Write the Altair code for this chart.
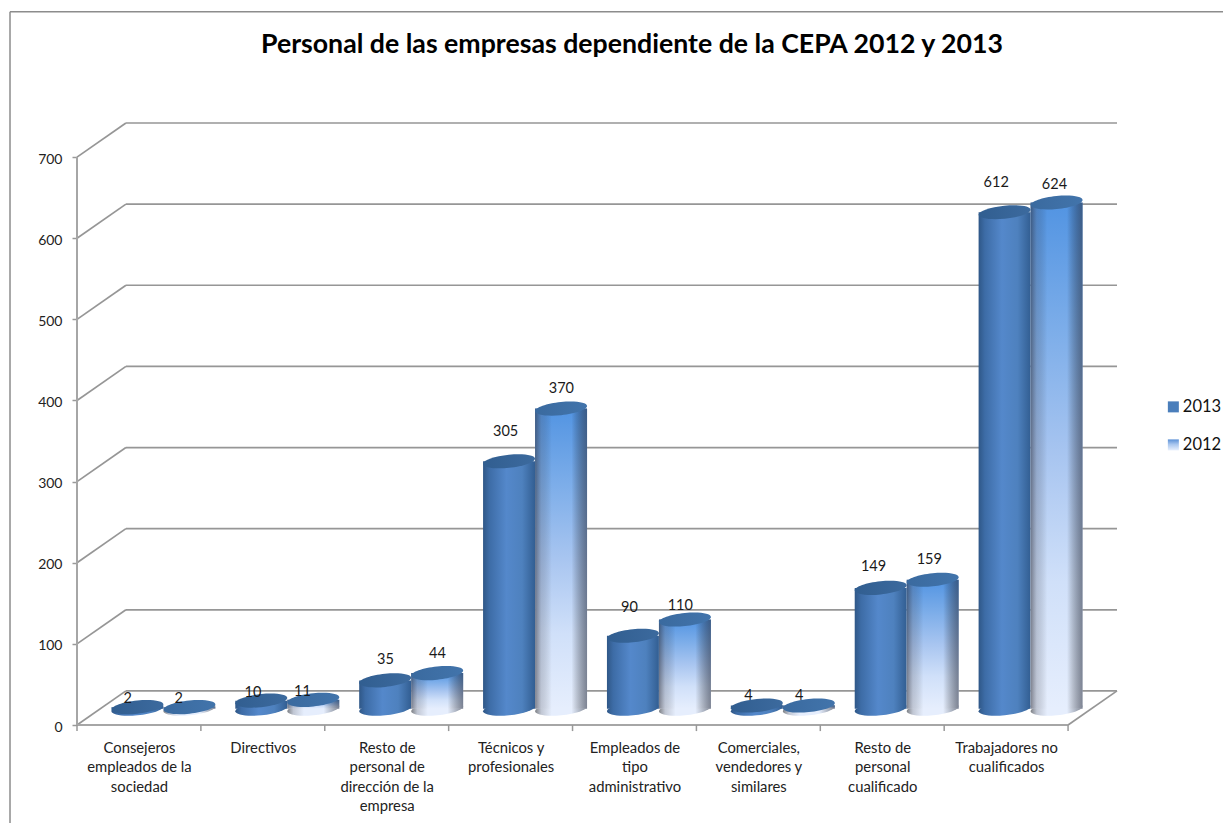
import altair as alt
import pandas as pd

categories = [
    ["Consejeros", "empleados de la", "sociedad"],
    ["Directivos"],
    ["Resto de", "personal de", "dirección de la", "empresa"],
    ["Técnicos y", "profesionales"],
    ["Empleados de", "tipo", "administrativo"],
    ["Comerciales,", "vendedores y", "similares"],
    ["Resto de", "personal", "cualificado"],
    ["Trabajadores no", "cualificados"],
]
values_2013 = [2, 10, 35, 305, 90, 4, 149, 612]
values_2012 = [2, 11, 44, 370, 110, 4, 159, 624]
label_x_2013 = [0.41, 1.42, 2.49, 3.46, 4.46, 5.42, 6.43, 7.42]
label_x_2012 = [0.82, 1.82, 2.91, 3.91, 4.87, 5.83, 6.88, 7.89]
label_y_2013 = [34.5, 42, 83, 364, 147, 38, 197, 670]
label_y_2012 = [34.5, 43, 90, 416, 149, 38, 206, 668]
y_ticks = [0, 100, 200, 300, 400, 500, 600, 700]

FONT = "Lato"
GRID = "#969696"
PX_X = 123.9
PX_Y = 0.811
DEPTH_X = 0.395
DEPTH_Y = 42
LIFT = 20
BAR_W = 52 / PX_X
ELLIPSE = "M-1,0.1 A1,0.25,-6,1,1,1,-0.1 A1,0.25,-6,1,1,-1,0.1 Z"


def hgrad(stops):
    return {"gradient": "linear", "x1": 0, "x2": 1, "y1": 0, "y2": 0,
            "stops": [{"offset": o, "color": c} for o, c in stops]}


def vgrad(stops):
    return {"gradient": "linear", "x1": 0, "x2": 0, "y1": 0, "y2": 1,
            "stops": [{"offset": o, "color": c} for o, c in stops]}


body_2013 = hgrad([(0, "#2f5787"), (0.12, "#3d6ca6"), (0.45, "#5488cb"), (0.75, "#4e81be"), (1, "#325e92")])
top_2013 = hgrad([(0, "#315e90"), (1, "#3c6a9e")])
body_2012 = vgrad([(0, "#5294e2"), (0.25, "#7cade9"), (0.5, "#a8c5f0"), (0.75, "#d0e0f9"), (1, "#e6eefd")])
shade_2012 = hgrad([(0, "rgba(40,40,50,0.55)"), (0.12, "rgba(60,60,70,0.22)"), (0.32, "rgba(0,0,0,0)"),
                    (0.7, "rgba(0,0,0,0)"), (1, "rgba(40,45,60,0.55)")])
foot_2012 = hgrad([(0, "#7d8085"), (0.12, "#c1c7d4"), (0.32, "#e6eefd"), (0.7, "#e6eefd"), (1, "#7c8390")])
top_2012 = hgrad([(0, "#3a6a9f"), (1, "#4274ab")])
swatch_2013 = "#4a7ebb"
swatch_2012 = vgrad([(0, "#5a90d6"), (0.45, "#a9c6ee"), (1, "#e8f0fd")])

n = len(categories)


def frame(values, side):
    rows = []
    for i, v in enumerate(values):
        c = i + 0.5 + DEPTH_X / 2 + side * BAR_W / 2
        rows.append({"c": c, "x0": c - BAR_W / 2, "x1": c + BAR_W / 2,
                     "base": LIFT, "top": v + LIFT, "v": v})
    return pd.DataFrame(rows)


xs = alt.Scale(domain=[0, 8.395], nice=False, zero=False)
ys = alt.Scale(domain=[0, 742], nice=False, zero=False)
label_expr = "[" + ",".join("[" + ",".join("'" + s + "'" for s in c) + "]" for c in categories) + "][floor(datum.value)]"
x_axis = alt.Axis(
    values=[i + 0.5 for i in range(n)], ticks=False, domain=False, grid=False,
    labelFont=FONT, labelFontSize=14.8, labelColor="#222222", labelPadding=15,
    labelLineHeight=19.5, labelBaseline="top", labelOverlap=False, labelFlush=False,
    labelAngle=0, labelExpr=label_expr, title=None,
)
y_axis = alt.Axis(
    values=y_ticks, tickSize=5, tickColor="#999999", tickWidth=1.5, domain=False, grid=False,
    labelFont=FONT, labelFontSize=14, labelColor="#222222", labelPadding=10, labelOffset=2, format="d", title=None,
)
X = lambda f: alt.X(f, type="quantitative", scale=xs, title=None, axis=x_axis)
Y = lambda f: alt.Y(f, type="quantitative", scale=ys, title=None, axis=y_axis)

segs = []
for t in y_ticks:
    segs.append({"x": 0, "x2": DEPTH_X, "y": t, "y2": t + DEPTH_Y})
    segs.append({"x": DEPTH_X, "x2": 8 + DEPTH_X, "y": t + DEPTH_Y, "y2": t + DEPTH_Y})
segs.append({"x": 8, "x2": 8 + DEPTH_X, "y": 0, "y2": DEPTH_Y})
grid = alt.Chart(pd.DataFrame(segs)).mark_rule(color=GRID, strokeWidth=1.7).encode(
    x=X("x"), x2="x2:Q", y=Y("y"), y2="y2:Q")

y_line = alt.Chart(pd.DataFrame({"x": [0], "y": [0], "y2": [700]})).mark_rule(color="#a6a6a6", strokeWidth=2).encode(
    x=X("x"), y=Y("y"), y2="y2:Q")
x_line = alt.Chart(pd.DataFrame({"x": [0], "x2": [8], "y": [0]})).mark_rule(color="#a6a6a6", strokeWidth=2).encode(
    x=X("x"), x2="x2:Q", y=Y("y"))
x_ticks = alt.Chart(pd.DataFrame({"x": list(range(n + 1)), "y": [0] * (n + 1), "y2": [-7.5] * (n + 1)})).mark_rule(
    color="#999999", strokeWidth=1.5).encode(x=X("x"), y=Y("y"), y2="y2:Q")


def cylinder(df, body, top, foot, shade=None):
    src = alt.Chart(df)
    out = [
        src.mark_point(filled=True, shape=ELLIPSE, size=2704, fill=foot, opacity=1, strokeWidth=0).encode(
            x=X("c"), y=Y("base")),
        src.mark_rect(fill=body, strokeWidth=0).encode(x=X("x0"), x2="x1:Q", y=Y("base"), y2="top:Q"),
    ]
    if shade is not None:
        out.append(src.mark_rect(fill=shade, strokeWidth=0).encode(x=X("x0"), x2="x1:Q", y=Y("base"), y2="top:Q"))
    out.append(src.mark_point(filled=True, shape=ELLIPSE, size=2704, fill=top, opacity=1, strokeWidth=0).encode(
        x=X("c"), y=Y("top")))
    return out


bars = cylinder(frame(values_2013, -1), body_2013, top_2013, body_2013) + \
    cylinder(frame(values_2012, 1), body_2012, top_2012, foot_2012, shade_2012)

labels_df = pd.DataFrame({
    "x": label_x_2013 + label_x_2012,
    "y": label_y_2013 + label_y_2012,
    "t": [str(v) for v in values_2013 + values_2012],
})
labels = alt.Chart(labels_df).mark_text(font=FONT, fontSize=14.5, color="#1a1a1a", dy=2).encode(
    x=X("x"), y=Y("y"), text="t:N")

# legend, placed through the same scales, right of the wall
leg_x = (1173.5 - 77) / PX_X
leg_tx = (1183 - 77) / PX_X
leg_y = [(725 - 407) / PX_Y, (725 - 445) / PX_Y]
leg1 = alt.Chart(pd.DataFrame({"x": [leg_x], "y": [leg_y[0]]})).mark_square(size=121, fill=swatch_2013, opacity=1, strokeWidth=0).encode(x=X("x"), y=Y("y"))
leg2 = alt.Chart(pd.DataFrame({"x": [leg_x], "y": [leg_y[1]]})).mark_square(size=121, fill=swatch_2012, opacity=1, strokeWidth=0).encode(x=X("x"), y=Y("y"))
leg_txt = alt.Chart(pd.DataFrame({"x": [leg_tx] * 2, "y": leg_y, "t": ["2013", "2012"]})).mark_text(
    font=FONT, fontSize=16.5, color="#111111", align="left").encode(x=X("x"), y=Y("y"), text="t:N")

# chart frame
bx = (10 - 77) / PX_X
by_top = (725 - 12) / PX_Y
by_bot = (725 - 831) / PX_Y
border_l = alt.Chart(pd.DataFrame({"x": [bx], "y": [by_bot], "y2": [by_top]})).mark_rule(color="#8c8c8c", strokeWidth=1.5).encode(
    x=X("x"), y=Y("y"), y2="y2:Q")
border_t = alt.Chart(pd.DataFrame({"x": [bx], "x2": [(1231 - 77) / PX_X], "y": [by_top]})).mark_rule(color="#8c8c8c", strokeWidth=1.5).encode(
    x=X("x"), x2="x2:Q", y=Y("y"))

chart = alt.layer(
    border_l, border_t, grid, y_line, x_line, x_ticks, *bars, labels, leg1, leg2, leg_txt
).properties(
    width=1040,
    height=602,
    background="white",
    padding={"left": 69, "top": 115, "right": 106, "bottom": 98},
    autosize=alt.AutoSizeParams(type="none"),
    title=alt.TitleParams(
        "Personal de las empresas dependiente de la CEPA 2012 y 2013",
        font=FONT, fontSize=26.7, fontWeight="bold", color="#000000", anchor="middle", dx=35, offset=-48,
    ),
).configure_view(strokeWidth=0, stroke="transparent")

chart.save("out.html", embed_options={"renderer": "svg", "actions": False})
